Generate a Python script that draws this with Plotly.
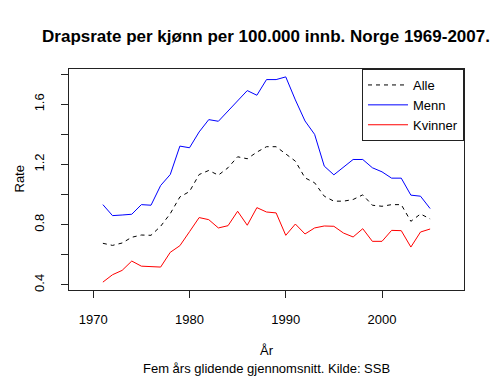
import plotly.graph_objects as go

years = list(range(1971, 2006))
alle = [0.676, 0.662, 0.678, 0.716, 0.731, 0.729, 0.789, 0.873, 0.984, 1.02,
        1.133, 1.16, 1.129, 1.178, 1.251, 1.238, 1.282, 1.318, 1.318, 1.267,
        1.222, 1.111, 1.078, 0.989, 0.956, 0.956, 0.967, 0.998, 0.929, 0.922,
        0.933, 0.933, 0.822, 0.871, 0.838]
menn = [0.933, 0.86, 0.864, 0.869, 0.933, 0.929, 1.06, 1.133, 1.322, 1.311,
        1.416, 1.498, 1.487, 1.556, 1.622, 1.691, 1.66, 1.764, 1.764, 1.782,
        1.629, 1.489, 1.4, 1.189, 1.131, 1.18, 1.233, 1.233, 1.178, 1.151,
        1.109, 1.109, 0.996, 0.989, 0.907]
kvinner = [0.418, 0.467, 0.496, 0.558, 0.524, 0.522, 0.518, 0.616, 0.66, 0.753,
           0.847, 0.833, 0.778, 0.793, 0.889, 0.796, 0.913, 0.884, 0.878, 0.729,
           0.804, 0.738, 0.778, 0.791, 0.789, 0.744, 0.718, 0.773, 0.689, 0.689,
           0.762, 0.76, 0.651, 0.751, 0.771]

x_ticks = [1970, 1980, 1990, 2000]
y_ticks = [0.4, 0.6, 0.8, 1.0, 1.2, 1.4, 1.6, 1.8]
y_tick_text = ["0.4", "", "0.8", "", "1.2", "", "1.6", ""]

FONT = "Liberation Sans, Arial, Helvetica, sans-serif"
# the page body has an 8px margin, so the figure is drawn 8px in from top-left
W, H = 492, 369

fig = go.Figure()
fig.add_trace(go.Scatter(x=years, y=alle, mode="lines", name="Alle",
                         line=dict(color="black", width=1, dash="4px,4px")))
fig.add_trace(go.Scatter(x=years, y=menn, mode="lines", name="Menn",
                         line=dict(color="#0000ff", width=1)))
fig.add_trace(go.Scatter(x=years, y=kvinner, mode="lines", name="Kvinner",
                         line=dict(color="#ff0000", width=1)))

fig.update_layout(
    width=W, height=H,
    margin=dict(l=61, r=36, t=61, b=87, pad=0),
    paper_bgcolor="white", plot_bgcolor="white",
    font=dict(family=FONT, size=13, color="black"),
    title=dict(text="<b>Drapsrate per kjønn per 100.000 innb. Norge 1969-2007.</b>",
               x=258 / W, xanchor="center", y=1 - 28 / H, yanchor="middle",
               yref="container", font=dict(size=17, family=FONT),
               automargin=False),
    showlegend=True,
    legend=dict(x=1, y=1, xanchor="right", yanchor="top",
                bordercolor="#222", borderwidth=1, bgcolor="white",
                font=dict(size=13), tracegroupgap=0, itemwidth=40),
    xaxis=dict(range=[1967.48, 2008.52], tickvals=x_ticks, ticks="outside",
               ticklen=7, tickcolor="#222", showgrid=False, zeroline=False,
               showline=True, linecolor="#222", linewidth=1, mirror=True,
               ticklabelstandoff=10, automargin=False),
    yaxis=dict(range=[0.3656, 1.8344], tickvals=y_ticks, ticktext=y_tick_text,
               ticks="outside", ticklen=7, tickcolor="#222", tickangle=-90,
               showgrid=False, zeroline=False, showline=True, linecolor="#222",
               linewidth=1, mirror=True, ticklabelstandoff=12, automargin=False),
    annotations=[
        dict(text="År", xref="paper", yref="paper", x=0.5, y=0, yshift=-60,
             showarrow=False, xanchor="center", yanchor="middle",
             font=dict(size=13)),
        dict(text="Fem års glidende gjennomsnitt. Kilde: SSB", xref="paper",
             yref="paper", x=0.5, y=0, yshift=-78, showarrow=False,
             xanchor="center", yanchor="middle", font=dict(size=13)),
        dict(text="Rate", xref="paper", yref="paper", x=0, xshift=-50, y=0.5,
             showarrow=False, xanchor="center", yanchor="middle",
             textangle=-90, font=dict(size=13)),
    ],
)

fig.write_html("out.html")
